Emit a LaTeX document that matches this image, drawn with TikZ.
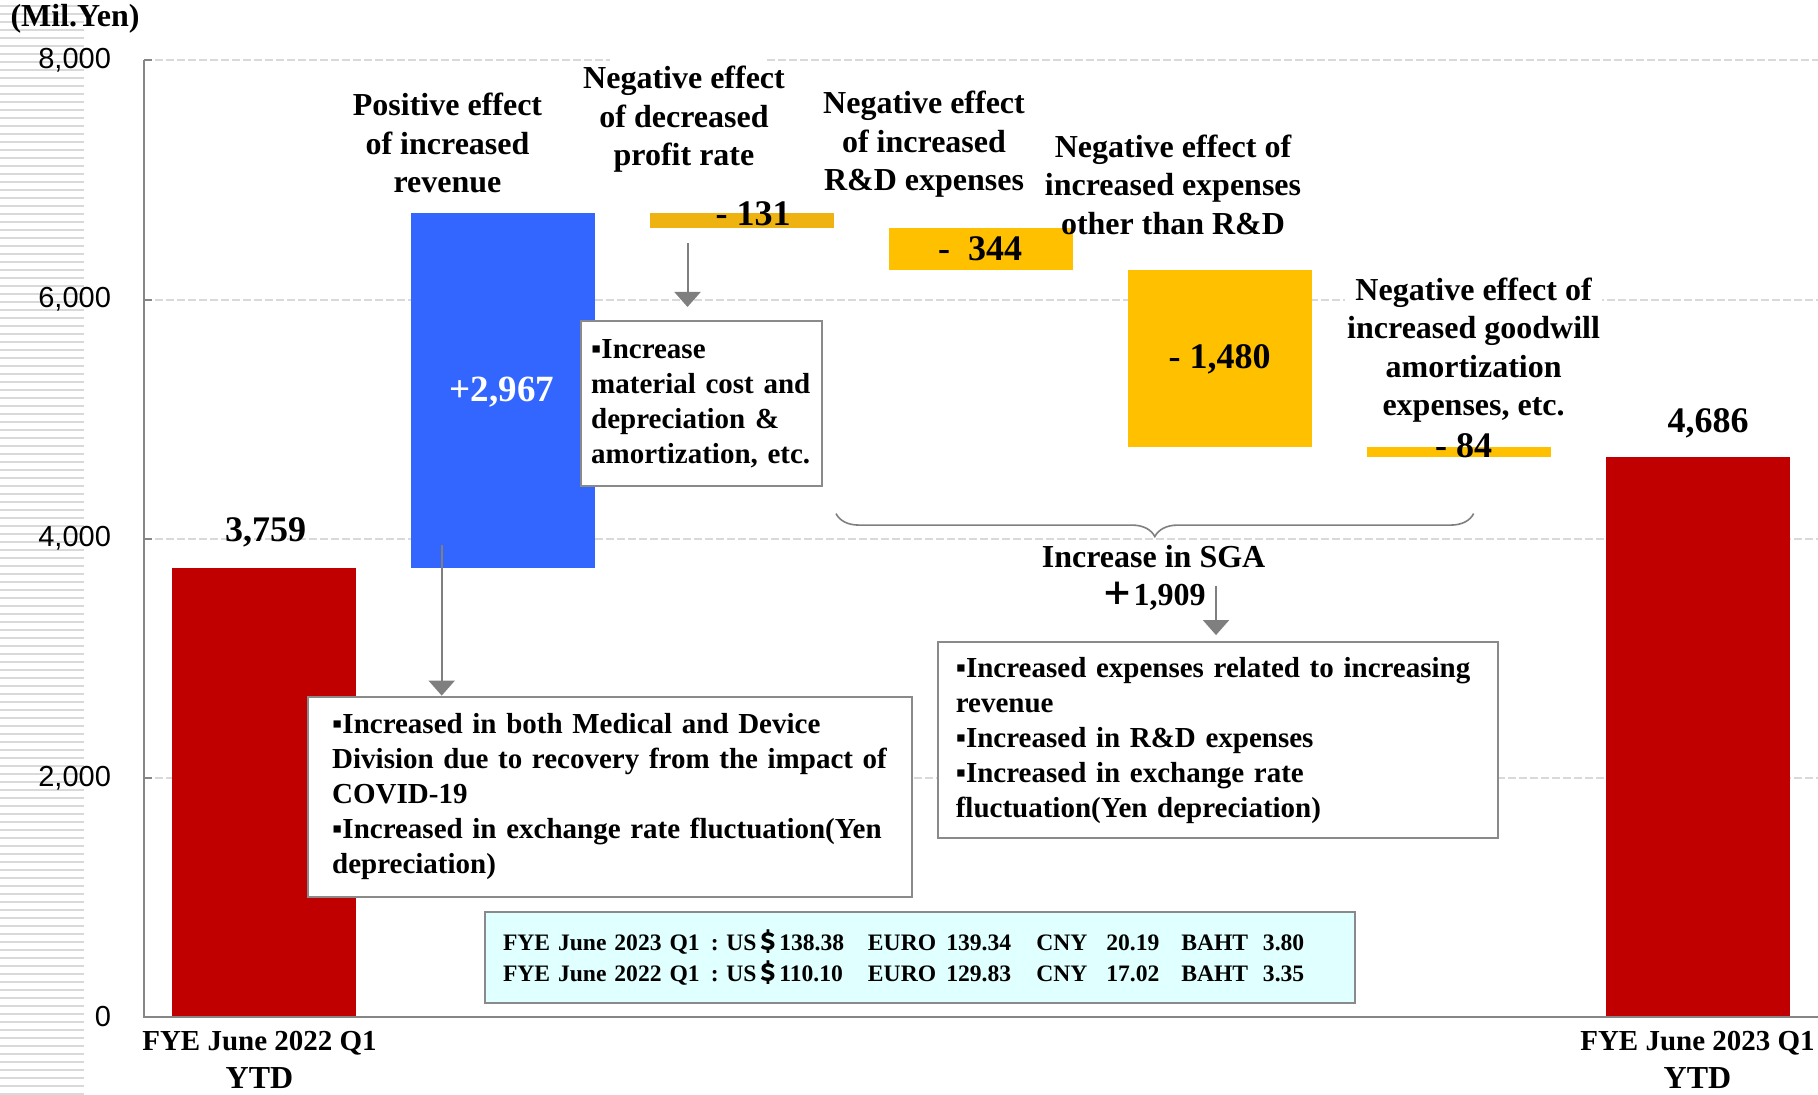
\documentclass[tikz,border=0pt]{standalone}
\usepackage{fontspec}
\setmainfont{Liberation Serif}
\newfontfamily\axisfont{Liberation Sans}
\newfontfamily\cjk{Noto Sans CJK JP}
\usetikzlibrary{arrows.meta,decorations.pathreplacing}
\definecolor{barred}{HTML}{C00000}
\definecolor{barblue}{HTML}{3366FF}
\definecolor{bargold}{HTML}{FFC000}
\definecolor{bargolddk}{HTML}{EEB211}
\definecolor{gridgray}{HTML}{D9D9D9}
\definecolor{axisgray}{HTML}{868686}
\definecolor{boxgray}{HTML}{8A8A8A}
\definecolor{arrgray}{HTML}{7F7F7F}
\definecolor{ratecyan}{HTML}{E0FFFF}
\newcommand{\rcell}[2]{\makebox[#1][l]{#2}}
\begin{document}
\begin{tikzpicture}[x=0.5pt, y=-0.5pt,
  grid/.style={gridgray, line width=1pt, dash pattern=on 4pt off 1.5pt},
  stripe/.style={gridgray, line width=0.75pt},
  ticklabel/.style={anchor=east, font=\axisfont\fontsize{14.5}{17}\selectfont},
  catlabel/.style={font=\fontsize{16}{19.2}\selectfont\bfseries, align=center, inner sep=1pt},
  vallabel/.style={font=\fontsize{18}{20}\selectfont\bfseries},
  notebox/.style={draw=boxgray, line width=1pt, fill=white, anchor=north west, align=left,
    font=\fontsize{14.5}{17.5}\selectfont\bfseries},
  arr/.style={arrgray, line width=1pt, -{Triangle[width=13pt,length=7.5pt]}}]
\useasboundingbox (0,0) rectangle (1818,1095);
% striped margin
\foreach \k in {0,...,136}
  \draw[stripe] (0,{6+8*\k}) -- (84,{6+8*\k});
% grid and axes
\foreach \y in {777.9,538.7,299.6}
  \draw[grid] (144,\y) -- (1818,\y);
\draw[grid] (144,60.5) -- (610,60.5) (767,60.5) -- (1818,60.5);
\foreach \y/\t [count=\i] in {1017/0, 777.9/{2,000}, 538.7/{4,000}, 299.6/{6,000}, 60.5/{8,000}}
  \node[ticklabel] (tick\i) at (118,\y) {\t};
\node[font=\fontsize{16}{18}\selectfont\bfseries] (unit) at (75,19) {(Mil.Yen)};
% bars
\fill[barred] (171.5,567.6) rectangle (355.5,1017);
\fill[barblue] (410.5,212.8) rectangle (594.5,567.6);
\fill[bargolddk] (649.5,212.8) rectangle (833.5,228.5);
\fill[bargold] (888.5,228.5) rectangle (1072.5,269.6);
\fill[bargold] (1127.5,269.6) rectangle (1311.5,446.6);
\fill[bargold] (1366.5,446.6) rectangle (1550.5,456.7);
\fill[barred] (1605.5,456.7) rectangle (1789.5,1017);
\draw[axisgray, line width=1pt] (144,60.5) -- (144,1017) -- (1818,1017);
\foreach \y in {777.9,538.7,299.6,60.5}
  \draw[axisgray, line width=1pt] (144,\y) -- (152,\y);
% values
\node[vallabel] (v3759) at (265.5,532) {3,759};
\node[vallabel, white, font=\fontsize{18.5}{20}\selectfont\bfseries] (v2967) at (502,392) {+2,967};
\node[vallabel] (v131) at (753,214) {- 131};
\node[vallabel] (v344) at (980,249) {-\ \ 344};
\node[vallabel] (v1480) at (1219.7,359.4) {- 1,480};
\node[vallabel] (v84) at (1463.5,446) {- 84};
\node[vallabel] (v4686) at (1708,423) {4,686};
% effect labels
\node[catlabel] (lrev) at (447.5,143) {Positive effect\\of increased\\revenue};
\node[catlabel] (lrate) at (684,119.4) {Negative effect\\of decreased\\profit rate};
\node[catlabel] (lrnd) at (924,144.5) {Negative effect\\of increased\\R\&D expenses};
\node[catlabel] (lother) at (1173,184.7) {Negative effect of\\increased expenses\\other than R\&D};
\node[catlabel, fill=white] (lgood) at (1473.6,350) {Negative effect of\\increased goodwill\\amortization\\expenses, etc.};
\node[catlabel] (cat1) at (259.5,1060) {\fontsize{14.5}{15}\selectfont FYE June 2022 Q1\\YTD};
\node[catlabel] (cat2) at (1697.5,1060) {\fontsize{14.5}{15}\selectfont FYE June 2023 Q1\\YTD};
% notes
\node[notebox, text width=110pt, inner xsep=5.25pt, minimum height=82.5pt] (nrate) at (579.7,320)
  {▪Increase\\material cost and\\depreciation \&\\amortization, etc.};
\node[notebox, text width=278pt, inner xsep=12pt, minimum height=100.3pt] (nrev) at (307.2,695.6)
  {▪Increased in both Medical and Device\\Division due to recovery from the impact of\\COVID-19\\▪Increased in exchange rate fluctuation(Yen\\depreciation)};
\node[notebox, text width=262pt, inner xsep=9pt, minimum height=98pt] (nsga) at (936.8,641.1)
  {▪Increased expenses related to increasing\\revenue\\▪Increased in R\&D expenses\\▪Increased in exchange rate\\fluctuation(Yen depreciation)};
\coordinate (a131) at (687.5,243.5);
\coordinate (a2967) at (441.7,545);
\coordinate (asga) at (1216,585.5);
\draw[arr, shorten >=6.5pt] (a131) -- (a131 |- nrate.north);
\draw[arr] (a2967) -- (a2967 |- nrev.north);
\draw[arr, shorten >=3pt] (asga) -- (asga |- nsga.north);
% SGA brace
\draw[arrgray, line width=0.8pt, decorate, decoration={brace, mirror, amplitude=11.5pt}] (836,513.6) -- (1473.6,513.6);
\node[catlabel] (sga) at (1153.6,578) {Increase in SGA\\{\cjk ＋}1,909};
% exchange rates
\node[draw=boxgray, line width=1pt, fill=ratecyan, anchor=north west, text width=417pt, inner xsep=9pt,
  minimum height=45.3pt, align=left, font=\fontsize{11.8}{15.5}\selectfont\bfseries] (rates) at (484,911)
  {\rcell{104pt}{FYE June 2023 Q1}\rcell{7.65pt}{:}\rcell{26.5pt}{US{\cjk ＄}}\rcell{44.35pt}{138.38}\rcell{39.15pt}{EURO}\rcell{45pt}{139.34}\rcell{35pt}{CNY}\rcell{37.5pt}{20.19}\rcell{40.85pt}{BAHT}3.80\\
   \rcell{104pt}{FYE June 2022 Q1}\rcell{7.65pt}{:}\rcell{26.5pt}{US{\cjk ＄}}\rcell{44.35pt}{110.10}\rcell{39.15pt}{EURO}\rcell{45pt}{129.83}\rcell{35pt}{CNY}\rcell{37.5pt}{17.02}\rcell{40.85pt}{BAHT}3.35};
\end{tikzpicture}
\end{document}
